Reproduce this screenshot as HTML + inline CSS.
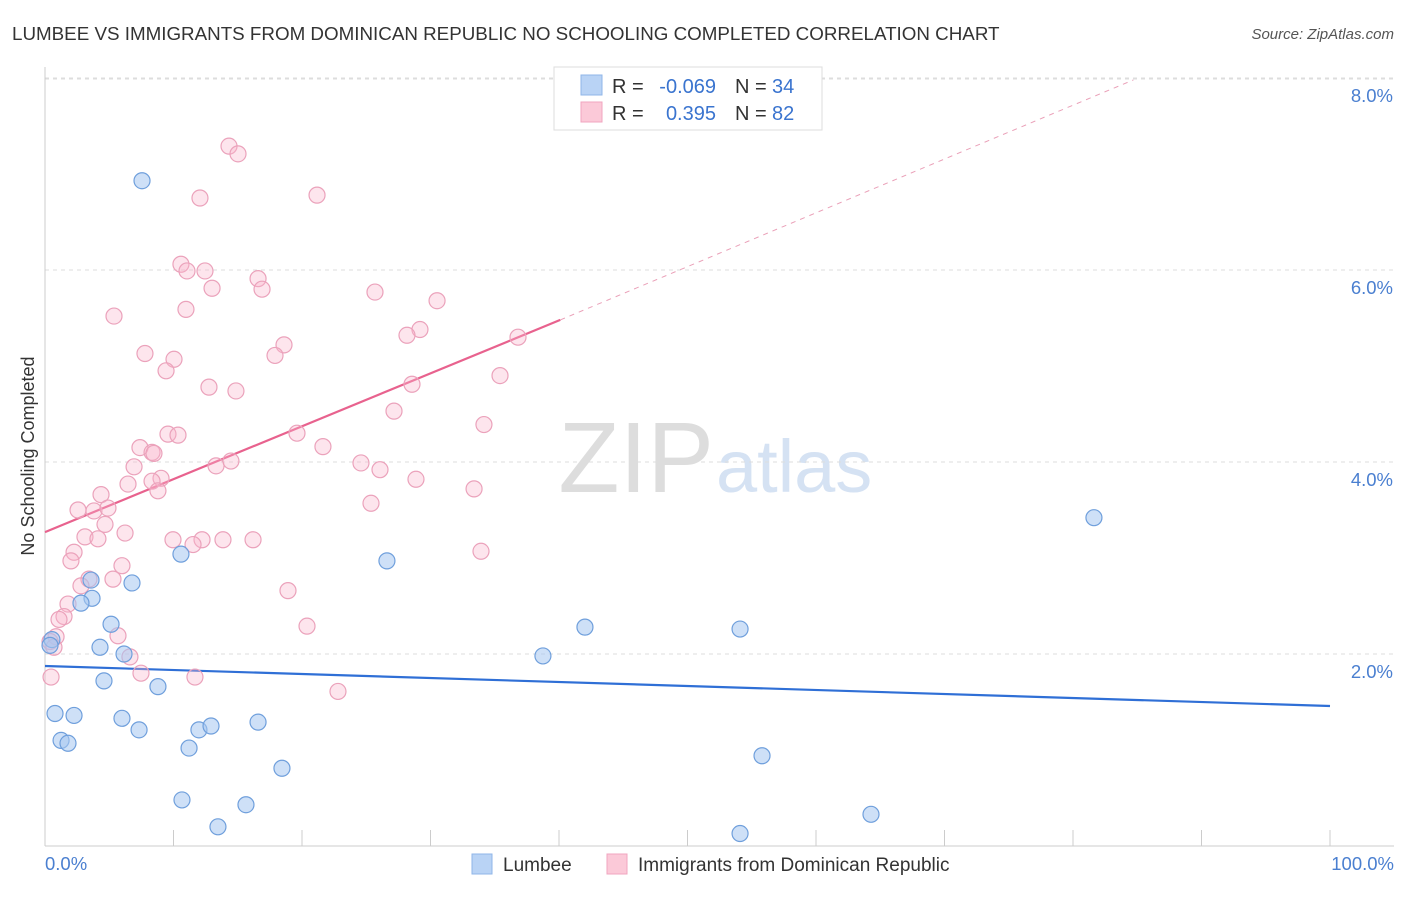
<!DOCTYPE html>
<html><head><meta charset="utf-8">
<style>
body{margin:0;background:#fff;font-family:"Liberation Sans",sans-serif;}
svg text{font-family:"Liberation Sans",sans-serif;}
</style></head>
<body>
<svg id="chart" width="1406" height="892">
<text x="12" y="40" font-size="18.8" fill="#333">LUMBEE VS IMMIGRANTS FROM DOMINICAN REPUBLIC NO SCHOOLING COMPLETED CORRELATION CHART</text>
<text x="1394" y="39" font-size="15" fill="#555" font-style="italic" text-anchor="end">Source: ZipAtlas.com</text>
<text x="714" y="492" font-size="100" fill="#ddd" text-anchor="end" font-family="Liberation Serif">ZIP</text>
<text x="716" y="492" font-size="74" fill="#d5e2f3">atlas</text>
<g id="grid"></g>
<g id="axes"></g>
<g id="lines"></g>
<g id="pts"></g>
<text transform="translate(34,456) rotate(-90)" font-size="18" fill="#333" text-anchor="middle">No Schooling Completed</text>
<text x="45" y="870" font-size="18.5" fill="#4a7fd0">0.0%</text>
<text x="1394" y="870" font-size="18.5" fill="#4a7fd0" text-anchor="end">100.0%</text>
<g>
<rect x="554" y="67" width="268" height="63" fill="#fff" stroke="#ddd"/>
<rect x="581" y="75" width="21" height="20" fill="#b9d3f5" stroke="#8fb6e8"/>
<rect x="581" y="102" width="21" height="20" fill="#fbc9d8" stroke="#f0a5bf"/>
<text x="612" y="93" font-size="20" fill="#333">R =</text><text x="716" y="93" font-size="20" fill="#3a74cf" text-anchor="end">-0.069</text>
<text x="735" y="93" font-size="20" fill="#333">N =</text><text x="772" y="93" font-size="20" fill="#3a74cf">34</text>
<text x="612" y="120" font-size="20" fill="#333">R =</text><text x="716" y="120" font-size="20" fill="#3a74cf" text-anchor="end">0.395</text>
<text x="735" y="120" font-size="20" fill="#333">N =</text><text x="772" y="120" font-size="20" fill="#3a74cf">82</text>
</g>
<g>
<rect x="472" y="854" width="20" height="20" fill="#b9d3f5" stroke="#8fb6e8"/>
<text x="503" y="871" font-size="19" fill="#333">Lumbee</text>
<rect x="607" y="854" width="20" height="20" fill="#fbc9d8" stroke="#f0a5bf"/>
<text x="638" y="871" font-size="19" fill="#333">Immigrants from Dominican Republic</text>
</g>
</svg>
<script>
const yTicks=[2,4,6,8];
const xTicks=[0,10,20,30,40,50,60,70,80,90,100];
const blueX=[7.55,10.58,26.61,81.63,42.02,54.09,38.75,3.58,6.77,3.66,2.80,5.14,4.28,6.15,0.54,0.39,4.59,8.79,0.78,2.26,5.99,7.32,11.98,12.92,16.58,1.25,1.79,11.21,18.44,55.80,10.66,15.64,13.46,64.28,54.09];
const blueY=[6.93,3.04,2.97,3.42,2.28,2.26,1.98,2.77,2.74,2.58,2.53,2.31,2.07,2.00,2.15,2.09,1.72,1.66,1.38,1.36,1.33,1.21,1.21,1.25,1.29,1.10,1.07,1.02,0.81,0.94,0.48,0.43,0.20,0.33,0.13];
const pinkX=[14.32,15.02,12.06,21.17,10.58,11.05,12.45,16.58,13.00,16.89,25.68,30.51,10.97,5.37,29.18,28.17,36.81,18.60,7.78,10.04,17.90,9.42,28.56,35.41,12.76,14.86,27.16,34.16,9.57,10.35,19.61,7.39,21.63,8.33,8.48,6.93,13.31,14.47,24.59,26.07,28.87,9.03,8.33,6.46,8.79,33.39,4.36,25.37,2.57,3.81,4.90,4.67,6.23,3.11,4.12,9.96,12.22,13.85,16.19,11.52,2.26,2.02,33.93,5.99,5.29,3.42,2.80,18.91,1.79,1.48,1.09,20.39,5.68,0.86,0.39,0.70,6.61,7.47,11.67,0.47,22.80];
const pinkY=[7.29,7.21,6.75,6.78,6.06,5.99,5.99,5.91,5.81,5.80,5.77,5.68,5.59,5.52,5.38,5.32,5.30,5.22,5.13,5.07,5.11,4.95,4.81,4.90,4.78,4.74,4.53,4.39,4.29,4.28,4.30,4.15,4.16,4.10,4.09,3.95,3.96,4.01,3.99,3.92,3.82,3.83,3.80,3.77,3.70,3.72,3.66,3.57,3.50,3.49,3.52,3.35,3.26,3.22,3.20,3.19,3.19,3.19,3.19,3.14,3.06,2.97,3.07,2.92,2.78,2.78,2.71,2.66,2.52,2.39,2.36,2.29,2.19,2.18,2.13,2.07,1.97,1.80,1.76,1.76,1.61];
const blueTrend=[1.875,1.458];
const pinkTrend=[3.27,5.48,7.98];
const pinkTrendX=[0,40.1,84.7];
const X=v=>45+v*12.85, Y=v=>846-v*96;
const NS="http://www.w3.org/2000/svg";
function mk(tag,attrs,parent){const e=document.createElementNS(NS,tag);for(const k in attrs)e.setAttribute(k,attrs[k]);document.getElementById(parent).appendChild(e);return e;}
let e=mk('line',{x1:45,x2:1394,y1:79,y2:79,stroke:'#ddd','stroke-dasharray':'4,4'},'grid');


yTicks.forEach(t=>{
 const g=mk('line',{x1:45,x2:1394,y1:Y(t),y2:Y(t),stroke:'#ddd','stroke-dasharray':'4,4'},'grid');
 
 
 const l=mk('text',{x:1393,y:Y(t)+24,'font-size':18.5,fill:'#4a7fd0','text-anchor':'end'},'grid');
 l.textContent=t.toFixed(1)+'%';
 
 
});
e=mk('line',{x1:45,x2:45,y1:67,y2:846,stroke:'#ccc'},'axes');


e=mk('line',{x1:45,x2:1394,y1:846,y2:846,stroke:'#ccc'},'axes');


xTicks.forEach(t=>{
 const k=mk('line',{x1:X(t),x2:X(t),y1:830,y2:846,stroke:'#ccc'},'axes');
 
 
});
e=mk('line',{x1:X(0),y1:Y(blueTrend[0]),x2:X(100),y2:Y(blueTrend[1]),stroke:'#2f6fd6','stroke-width':2.2},'lines');


e=mk('line',{x1:X(pinkTrendX[0]),y1:Y(pinkTrend[0]),x2:X(pinkTrendX[1]),y2:Y(pinkTrend[1]),stroke:'#e8628e','stroke-width':2.2},'lines');


e=mk('line',{x1:X(pinkTrendX[1]),y1:Y(pinkTrend[1]),x2:X(pinkTrendX[2]),y2:Y(pinkTrend[2]),stroke:'#eaa0b8','stroke-width':1,'stroke-dasharray':'5,5'},'lines');


pinkX.forEach((x,i)=>{
 const c=mk('circle',{cx:X(x),cy:Y(pinkY[i]),r:8,fill:'rgba(248,180,202,0.35)',stroke:'#eba2bb','stroke-width':1.2},'pts');
 
 
});
blueX.forEach((x,i)=>{
 const c=mk('circle',{cx:X(x),cy:Y(blueY[i]),r:8,fill:'rgba(165,198,240,0.55)',stroke:'#6f9fdc','stroke-width':1.2},'pts');
 
 
});
</script>
</body></html>
